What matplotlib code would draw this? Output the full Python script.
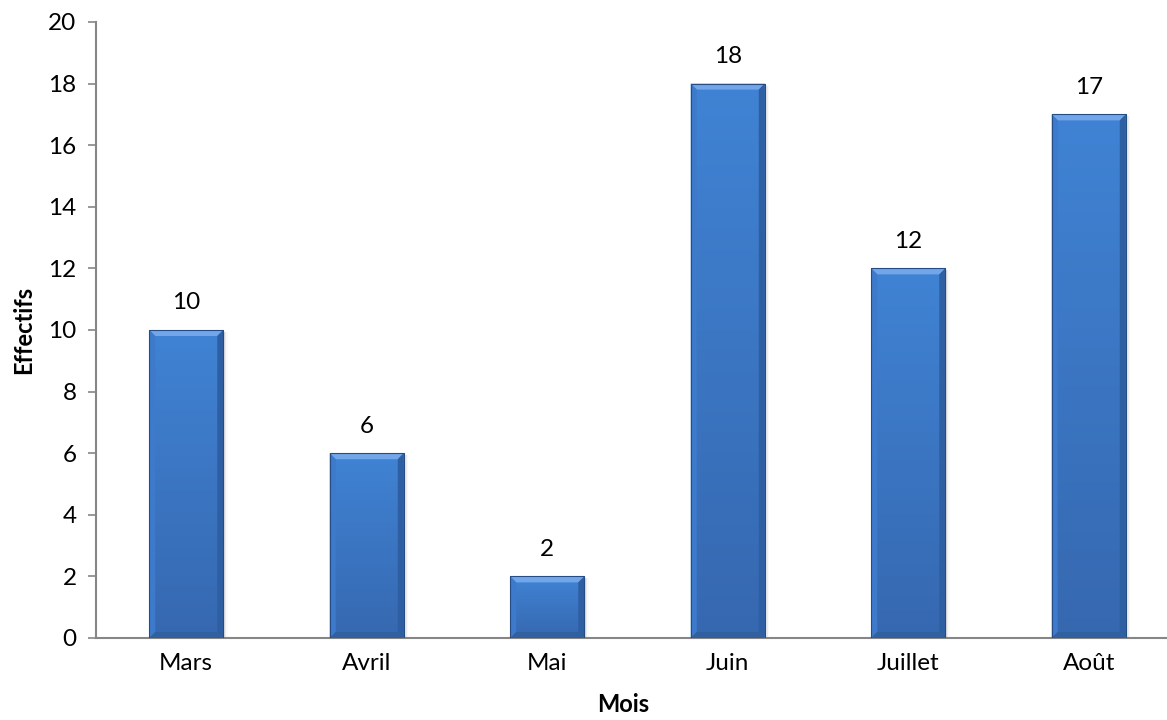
import numpy as np
import matplotlib
matplotlib.use("Agg")
import matplotlib.pyplot as plt
from matplotlib.patches import Polygon, Rectangle
from matplotlib.colors import LinearSegmentedColormap

plt.rcParams['font.family'] = ['Lato', 'DejaVu Sans']

months = ["Mars", "Avril", "Mai", "Juin", "Juillet", "Août"]
counts = [10, 6, 2, 18, 12, 17]
y_ticks = [0, 2, 4, 6, 8, 10, 12, 14, 16, 18, 20]

W, H, DPI = 1167, 720, 100
fig = plt.figure(figsize=(W / DPI, H / DPI), dpi=DPI)
ax = fig.add_axes([96 / W, 1 - 638 / H, 1083 / W, 616 / H])

x = np.arange(len(months))
bar_w = 0.41
ax.set_xlim(-0.5, len(months) - 0.5)
ax.set_ylim(0, 20)

# pixel -> data scale factors for the bevel
px_x = (len(months)) / 1083.0
px_y = 20 / 616.0
bev = 6

face_cmap = LinearSegmentedColormap.from_list("face", ["#4083d4", "#3668b0"])

bars = ax.bar(x, counts, width=bar_w, color="none", edgecolor="none", zorder=2)
for b, v in zip(bars, counts):
    x0 = b.get_x()
    x1 = x0 + b.get_width()
    top = v
    bx = bev * px_x
    by = bev * px_y
    # soft shadow on the right
    for k, a in enumerate([0.08, 0.05, 0.025]):
        ax.add_patch(Rectangle((x1, 0), (k + 1) * 1.5 * px_x, top - 2 * px_y,
                               facecolor="#000000", alpha=a, edgecolor="none", zorder=1))
    # main face with vertical gradient
    grad = np.linspace(0, 1, 256).reshape(-1, 1)
    im = ax.imshow(grad, cmap=face_cmap, aspect="auto",
                   extent=(x0, x1, 0, top), origin="upper", zorder=2)
    im.set_clip_path(Rectangle((x0, 0), x1 - x0, top, transform=ax.transData))
    # bevel edges
    ax.add_patch(Polygon([(x0, top), (x1, top), (x1 - bx, top - by), (x0 + bx, top - by)],
                         closed=True, facecolor="#72a6e8", edgecolor="none", zorder=3))
    ax.add_patch(Polygon([(x0, top), (x0 + bx, top - by), (x0 + bx, by), (x0, 0)],
                         closed=True, facecolor="#3d7acb", edgecolor="none", zorder=3))
    ax.add_patch(Polygon([(x1, top), (x1 - bx, top - by), (x1 - bx, by), (x1, 0)],
                         closed=True, facecolor="#2f5fa3", edgecolor="none", zorder=3))
    ax.add_patch(Polygon([(x0, 0), (x1, 0), (x1 - bx, by), (x0 + bx, by)],
                         closed=True, facecolor="#30609f", edgecolor="none", zorder=3))
    ax.add_patch(Rectangle((x0, 0), x1 - x0, top, facecolor="none",
                           edgecolor="#264c84", linewidth=0.8, zorder=4))
    ax.annotate(f"{v}", (b.get_x() + b.get_width() / 2, top), xytext=(0, 12),
                textcoords="offset points", ha="center", va="bottom",
                fontsize=17.5, color="#000000")

ax.set_xticks(x)
ax.set_xticklabels(months, fontsize=17.5)
ax.set_yticks(y_ticks)
ax.set_yticklabels([str(t) for t in y_ticks], fontsize=17.5)
ax.tick_params(axis="x", length=0, pad=11)
ax.tick_params(axis="y", length=6, width=1.2, color="#868686", pad=8, direction="out")

for s in ["top", "right"]:
    ax.spines[s].set_visible(False)
for s in ["left", "bottom"]:
    ax.spines[s].set_color("#868686")
    ax.spines[s].set_linewidth(1.5)

fig.text(24 / W, 1 - 330 / H, "Effectifs", rotation=90, ha="center", va="center",
         fontsize=17, fontweight="bold")
fig.text(623 / W, 1 - 705 / H, "Mois", ha="center", va="center",
         fontsize=17, fontweight="bold")

fig.savefig("out.png", dpi=DPI)
